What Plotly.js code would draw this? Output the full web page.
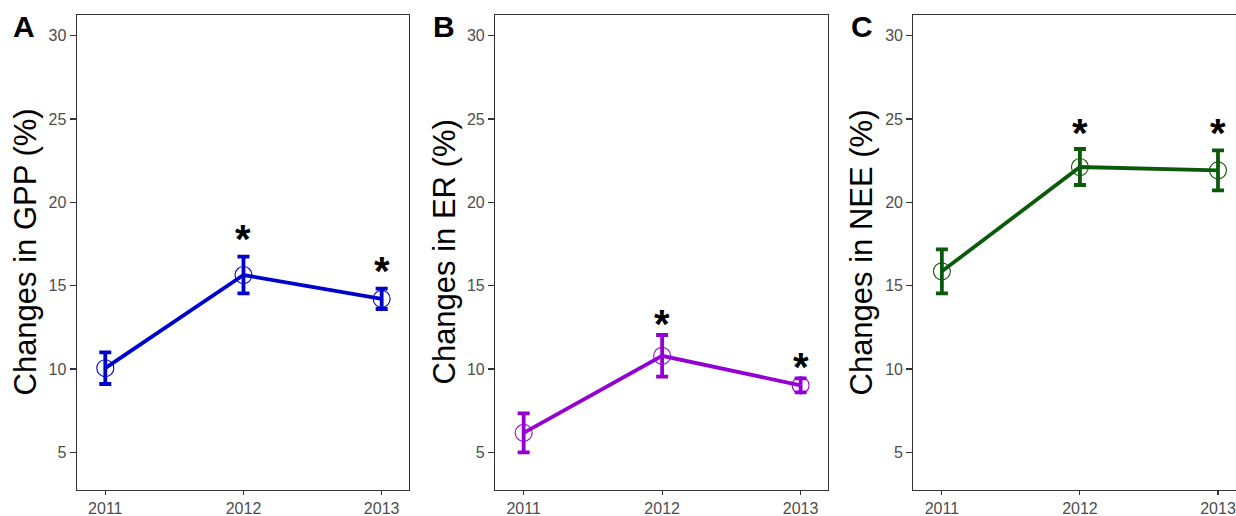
<!DOCTYPE html>
<html>
<head>
<meta charset="utf-8">
<script src="https://cdn.plot.ly/plotly-3.0.1.min.js"></script>
<style>
html,body{margin:0;padding:0;overflow:hidden;background:#fff;}
#chart{width:1246px;height:516px;}
</style>
</head>
<body>
<div id="chart"></div>
<script>
// ---- data ----
const years = [2011, 2012, 2013];
const yearLabels = ["2011", "2012", "2013"];
const yTicks = [5, 10, 15, 20, 25, 30];

const gppMean = [10.05, 15.64, 14.21];
const gppErr  = [0.95, 1.10, 0.61];
const erMean  = [6.17, 10.79, 9.02];
const erErr   = [1.17, 1.25, 0.42];
const neeMean = [15.86, 22.12, 21.92];
const neeErr  = [1.32, 1.08, 1.20];

const starYears = [2012, 2013];
const gppStarY = [18.28, 16.35];
const erStarY  = [13.18, 10.60];
const neeStarY = [24.66, 24.66];

const panelLetters = ["A", "B", "C"];
const yTitles = ["Changes in GPP (%)", "Changes in ER (%)", "Changes in NEE (%)"];

// ---- layout helpers ----
const W = 1246, H = 516;
const panels = [
  {mean: gppMean, err: gppErr, star: gppStarY, color: "#0000CD", left: 76.7, right: 409.3, letterX: 24, titleX: 25},
  {mean: erMean,  err: erErr,  star: erStarY,  color: "#9400D3", left: 495.0, right: 828.3, letterX: 443.5, titleX: 444},
  {mean: neeMean, err: neeErr, star: neeStarY, color: "#0B5A0B", left: 913.3, right: 1245.6, letterX: 862, titleX: 861}
];
const yDomain = [1 - 490 / H, 1 - 14.7 / H];
const fontFam = "Liberation Sans, Arial, sans-serif";

const traces = [];
const annotations = [];
const layout = {
  width: W, height: H,
  margin: {l: 0, r: 0, t: 0, b: 0},
  paper_bgcolor: "#ffffff",
  plot_bgcolor: "#ffffff",
  showlegend: false,
  font: {family: fontFam}
};

panels.forEach((p, i) => {
  const n = i === 0 ? "" : String(i + 1);
  const xa = "x" + n, ya = "y" + n;
  traces.push({
    type: "scatter",
    mode: "lines+markers",
    x: years, y: p.mean,
    xaxis: xa, yaxis: ya,
    line: {color: p.color, width: 3.8},
    marker: {symbol: "circle-open", size: 17, color: p.color, line: {width: 1.1, color: p.color}},
    error_y: {type: "data", array: p.err, visible: true, color: p.color, thickness: 3.8, width: 6},
    hoverinfo: "skip"
  });
  starYears.forEach((yr, k) => {
    annotations.push({
      xref: xa, yref: ya, x: yr, y: p.star[k],
      text: "<b>*</b>", showarrow: false,
      font: {family: fontFam, size: 40, color: "#000000"},
      xanchor: "center", yanchor: "middle", yshift: -8
    });
  });
  annotations.push({
    xref: "paper", yref: "paper", x: p.letterX / W, y: 1 - 26.5 / H,
    text: "<b>" + panelLetters[i] + "</b>", showarrow: false,
    font: {family: fontFam, size: 30, color: "#000000"},
    xanchor: "center", yanchor: "middle"
  });
  annotations.push({
    xref: "paper", yref: "paper", x: p.titleX / W, y: 1 - 252.5 / H,
    text: yTitles[i], showarrow: false, textangle: -90,
    font: {family: fontFam, size: 31, color: "#000000"},
    xanchor: "center", yanchor: "middle"
  });
  const axCommon = {
    showline: true, mirror: true, linecolor: "#333333", linewidth: 1.1,
    ticks: "outside", tickwidth: 1.1, tickcolor: "#333333",
    showgrid: false, zeroline: false,
    tickfont: {family: fontFam, size: 16, color: "#4D4D4D"},
    fixedrange: true
  };
  layout["xaxis" + n] = Object.assign({}, axCommon, {
    domain: [p.left / W, p.right / W],
    range: [2010.793, 2013.2],
    ticklen: 4,
    tickmode: "array", tickvals: years, ticktext: yearLabels,
    anchor: ya
  });
  layout["yaxis" + n] = Object.assign({}, axCommon, {
    domain: yDomain,
    range: [2.74, 31.26],
    ticklen: 6,
    tickmode: "array", tickvals: yTicks, ticktext: yTicks.map(String),
    anchor: xa
  });
});
layout.annotations = annotations;

Plotly.newPlot("chart", traces, layout, {staticPlot: true, displayModeBar: false});
</script>
</body>
</html>
